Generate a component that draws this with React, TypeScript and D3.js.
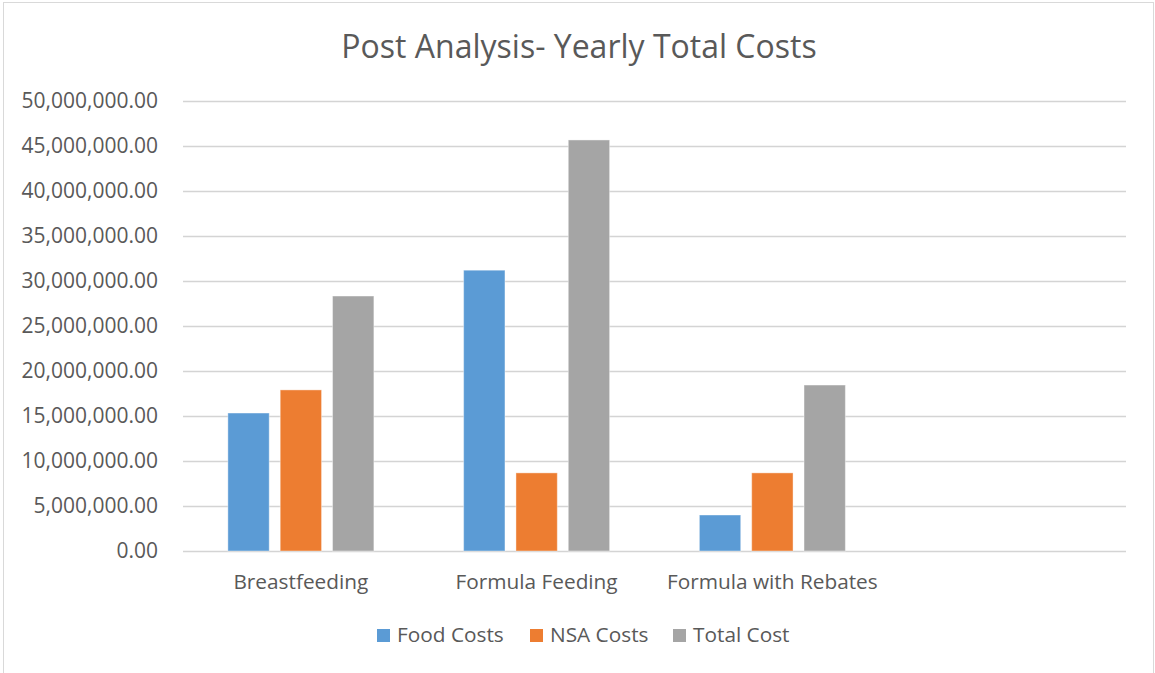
import React from "react";
import * as d3 from "d3";

const categories = ["Breastfeeding", "Formula Feeding", "Formula with Rebates", ""];
const seriesNames = ["Food Costs", "NSA Costs", "Total Cost"];
const foodCosts = [15330000, 31200000, 4000000];
const nsaCosts = [17900000, 8680000, 8680000];
const totalCosts = [28330000, 45670000, 18440000];
const seriesColors = ["#5B9BD5", "#ED7D31", "#A5A5A5"];
const yTicks = [0, 5000000, 10000000, 15000000, 20000000, 25000000, 30000000, 35000000, 40000000, 45000000, 50000000];

const W = 1155;
const H = 673;
const FONT = "'Open Sans', sans-serif";
const TEXT = "#595959";

export default function App() {
  const left = 183;
  const right = 1126;
  const top = 101;
  const bottom = 551;
  const x = d3.scaleBand<string>().domain(categories.map((c, i) => i + ":" + c)).range([left, right]).padding(0);
  const y = d3.scaleLinear().domain([0, 50000000]).range([bottom, top]);
  const bw = x.bandwidth();
  const groupW = 146;
  const xs = d3.scaleBand<string>().domain(seriesNames).range([(bw - groupW) / 2, (bw + groupW) / 2]).paddingInner(0.21).paddingOuter(0);
  const series = [foodCosts, nsaCosts, totalCosts];
  const fmt = d3.format(",.2f");

  const legendX = [377, 530, 673];

  return (
    <div style={{ position: "absolute", left: 0, top: 0, width: W, height: H, background: "#fff" }}>
      <svg width={W} height={H} style={{ display: "block" }}>
        <rect x={3.5} y={2.5} width={1150} height={700} fill="#fff" stroke="#D9D9D9" strokeWidth={1} />
        <text x={579} y={58} textAnchor="middle" fontFamily={FONT} fontSize={32} fill={TEXT}>
          Post Analysis- Yearly Total Costs
        </text>
        {yTicks.map((t) => (
          <g key={t}>
            <line x1={left} x2={right} y1={Math.round(y(t)) + 0.5} y2={Math.round(y(t)) + 0.5} stroke="#D4D4D4" strokeWidth={1.5} />
            <text x={158} y={y(t)} dy="0.35em" textAnchor="end" fontFamily={FONT} fontSize={21} fill={TEXT}>
              {fmt(t)}
            </text>
          </g>
        ))}
        {categories.map((c, ci) => {
          const x0 = x(ci + ":" + c) as number;
          return (
            <g key={ci}>
              {series.map((vals, si) => {
                const v = vals[ci];
                if (v === undefined) return null;
                return (
                  <rect
                    key={si}
                    x={x0 + (xs(seriesNames[si]) as number)}
                    y={y(v)}
                    width={xs.bandwidth()}
                    height={y(0) - y(v)}
                    fill={seriesColors[si]}
                    stroke="#fff"
                    strokeOpacity={0.4}
                    strokeWidth={1}
                  />
                );
              })}
              {c && (
                <text x={x0 + bw / 2} y={589} textAnchor="middle" fontFamily={FONT} fontSize={20.8} fill={TEXT}>
                  {c}
                </text>
              )}
            </g>
          );
        })}
        {seriesNames.map((s, i) => (
          <g key={s}>
            <rect x={legendX[i]} y={629} width={13} height={13} fill={seriesColors[i]} />
            <text x={legendX[i] + 20} y={642} fontFamily={FONT} fontSize={20.8} fill={TEXT}>
              {s}
            </text>
          </g>
        ))}
      </svg>
    </div>
  );
}
